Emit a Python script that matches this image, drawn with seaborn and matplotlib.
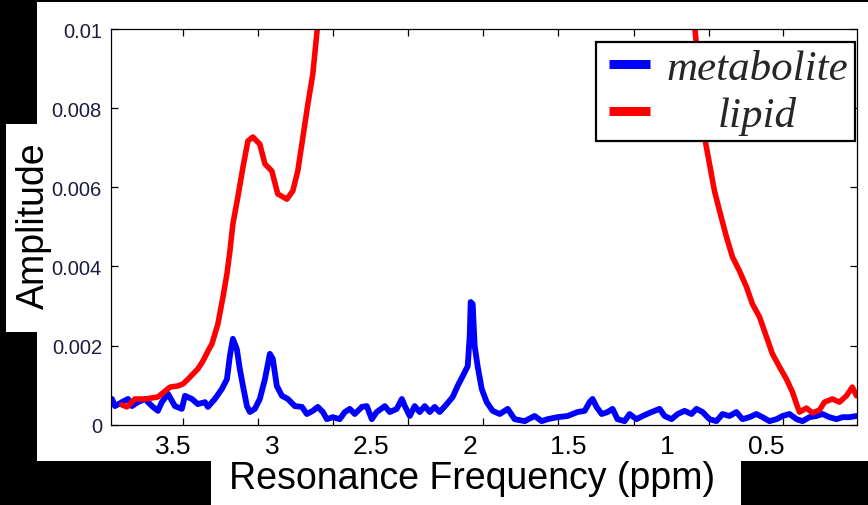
import matplotlib
matplotlib.use("Agg")
import matplotlib.pyplot as plt
from matplotlib.patches import Rectangle
from matplotlib.lines import Line2D
from matplotlib.legend_handler import HandlerLine2D
from matplotlib.font_manager import FontProperties
from matplotlib.ticker import FixedLocator
import pandas as pd
import seaborn as sns

# ---- spectra (chemical shift in ppm, amplitude in units of 1e-3) ----
metabolite_ppm = [
    3.808, 3.793, 3.758, 3.727, 3.707, 3.677, 3.641, 3.606, 3.576, 3.556,
    3.525, 3.490, 3.455, 3.439, 3.404, 3.374, 3.338, 3.323, 3.288, 3.253,
    3.227, 3.212, 3.197, 3.177, 3.162, 3.146, 3.126, 3.111, 3.086, 3.061,
    3.035, 3.010, 2.995, 2.975, 2.949, 2.919, 2.884, 2.848, 2.823, 2.793,
    2.768, 2.742, 2.722, 2.692, 2.657, 2.631, 2.606, 2.581, 2.545, 2.520,
    2.495, 2.470, 2.429, 2.404, 2.369, 2.343, 2.328, 2.303, 2.278, 2.253,
    2.227, 2.202, 2.177, 2.152, 2.116, 2.086, 2.061, 2.035, 2.010, 2.000,
    1.995, 1.985, 1.975, 1.960, 1.939, 1.914, 1.884, 1.848, 1.808, 1.773,
    1.722, 1.672, 1.636, 1.606, 1.556, 1.505, 1.455, 1.419, 1.394, 1.379,
    1.359, 1.333, 1.303, 1.278, 1.253, 1.217, 1.192, 1.157, 1.126, 1.081,
    1.040, 1.015, 0.980, 0.949, 0.914, 0.879, 0.854, 0.823, 0.788, 0.753,
    0.722, 0.687, 0.652, 0.621, 0.586, 0.551, 0.520, 0.485, 0.449, 0.419,
    0.384, 0.348, 0.318, 0.283, 0.247, 0.217, 0.182, 0.146, 0.116, 0.081,
    0.045,
]
metabolite_amp = [
    0.65, 0.47, 0.57, 0.65, 0.47, 0.57, 0.65, 0.47, 0.35, 0.57,
    0.78, 0.47, 0.40, 0.73, 0.65, 0.52, 0.57, 0.45, 0.65, 0.90,
    1.15, 1.74, 2.17, 1.91, 1.41, 0.98, 0.47, 0.32, 0.40, 0.65,
    1.15, 1.79, 1.66, 0.98, 0.73, 0.65, 0.47, 0.45, 0.27, 0.35,
    0.45, 0.32, 0.14, 0.19, 0.14, 0.32, 0.40, 0.27, 0.45, 0.47,
    0.14, 0.32, 0.47, 0.32, 0.40, 0.65, 0.47, 0.22, 0.47, 0.32,
    0.47, 0.32, 0.45, 0.32, 0.52, 0.70, 0.98, 1.23, 1.48, 2.24,
    3.10, 3.05, 1.99, 1.48, 0.90, 0.57, 0.35, 0.27, 0.40, 0.14,
    0.09, 0.22, 0.09, 0.14, 0.19, 0.22, 0.32, 0.35, 0.57, 0.65,
    0.45, 0.27, 0.32, 0.40, 0.14, 0.09, 0.27, 0.14, 0.22, 0.32,
    0.40, 0.22, 0.14, 0.27, 0.35, 0.27, 0.40, 0.32, 0.14, 0.09,
    0.27, 0.22, 0.32, 0.14, 0.19, 0.27, 0.19, 0.09, 0.14, 0.22,
    0.27, 0.14, 0.09, 0.19, 0.22, 0.27, 0.19, 0.14, 0.19, 0.19,
    0.22,
]

lipid_ppm = [
    3.758, 3.732, 3.692, 3.641, 3.576, 3.515, 3.475, 3.449, 3.424, 3.399,
    3.374, 3.348, 3.323, 3.303, 3.273, 3.247, 3.227, 3.212, 3.197, 3.172,
    3.146, 3.121, 3.096, 3.061, 3.035, 3.000, 2.970, 2.924, 2.894, 2.869,
    2.843, 2.818, 2.793, 2.778, 2.768, 2.740, 2.600, 1.300, 1.000, 0.900,
    0.864, 0.848, 0.828, 0.813, 0.788, 0.763, 0.737, 0.702, 0.672, 0.636,
    0.601, 0.571, 0.535, 0.500, 0.470, 0.434, 0.399, 0.369, 0.348, 0.333,
    0.298, 0.268, 0.232, 0.207, 0.167, 0.131, 0.096, 0.066, 0.045,
]
lipid_amp = [
    0.50, 0.45, 0.65, 0.65, 0.70, 0.95, 0.98, 1.03, 1.15, 1.28,
    1.41, 1.61, 1.86, 2.04, 2.54, 3.23, 3.81, 4.39, 5.07, 5.75,
    6.51, 7.17, 7.27, 7.09, 6.59, 6.41, 5.83, 5.70, 5.91, 6.41,
    7.27, 8.10, 8.86, 9.62, 10.13, 11.50, 18.00, 40.00, 22.00, 13.00,
    10.13, 9.29, 8.23, 7.27, 6.59, 5.91, 5.40, 4.74, 4.24, 3.88,
    3.48, 3.05, 2.72, 2.22, 1.79, 1.46, 1.15, 0.83, 0.52, 0.32,
    0.42, 0.30, 0.37, 0.57, 0.65, 0.57, 0.73, 0.95, 0.73,
]

x_tick_values = [3.5, 3.0, 2.5, 2.0, 1.5, 1.0, 0.5]
x_tick_labels = ["3.5", "3", "2.5", "2", "1.5", "1", "0.5"]
x_mark_positions = [3.449, 3.071, 2.692, 2.313, 1.934, 1.556, 1.172, 0.793, 0.414]
y_tick_values = [0.0, 0.002, 0.004, 0.006, 0.008, 0.010]
y_tick_labels = ["0", "0.002", "0.004", "0.006", "0.008", "0.01"]

series_names = ["metabolite", "lipid"]
series_colors = ["#0000ff", "#ff0000"]

sns.set_style("white")
plt.rcParams["font.family"] = ["Liberation Sans", "DejaVu Sans"]

W, H = 868, 506
fig = plt.figure(figsize=(W / 100, H / 100), dpi=100, facecolor="black")


def px_rect(x0, y0, x1, y1):
    """White panel given in pixel coordinates measured from the top-left."""
    fig.add_artist(Rectangle((x0 / W, 1 - y1 / H), (x1 - x0) / W, (y1 - y0) / H,
                             transform=fig.transFigure, facecolor="white",
                             edgecolor="none", zorder=-5))


px_rect(37, 3, 868, 462)    # plot panel
px_rect(6, 125, 37, 333)    # y-label panel
px_rect(211, 462, 741, 506)  # x-label panel

ax_l, ax_r, ax_t, ax_b = 111, 856.5, 30, 425.7
ax = fig.add_axes([ax_l / W, 1 - ax_b / H, (ax_r - ax_l) / W, (ax_b - ax_t) / H])
ax.set_facecolor("none")
ax.set_zorder(1)

met = pd.DataFrame({"ppm": metabolite_ppm,
                    "amp": [v * 1e-3 for v in metabolite_amp]})
lip = pd.DataFrame({"ppm": lipid_ppm,
                    "amp": [v * 1e-3 for v in lipid_amp]})

sns.lineplot(data=met, x="ppm", y="amp", ax=ax, color=series_colors[0],
             linewidth=4.2, sort=False, estimator=None, label=series_names[0])
sns.lineplot(data=lip, x="ppm", y="amp", ax=ax, color=series_colors[1],
             linewidth=4.0, sort=False, estimator=None, label=series_names[1])

ax.set_xlim(3.813, 0.045)
ax.set_ylim(0, 0.01)

for s in ax.spines.values():
    s.set_visible(True)
    s.set_color("black")
    s.set_linewidth(0.9)

ax.xaxis.set_major_locator(FixedLocator(x_tick_values))
ax.set_xticklabels(x_tick_labels)
ax.xaxis.set_minor_locator(FixedLocator(x_mark_positions))
ax.set_yticks(y_tick_values)
ax.set_yticklabels(y_tick_labels)

ax.tick_params(axis="x", which="major", length=0, labelsize=19, pad=6.5,
               labelcolor="black")
ax.tick_params(axis="x", which="minor", direction="in", length=5, width=0.9,
               top=True, bottom=True, color="black")
ax.tick_params(axis="y", which="major", direction="in", length=5, width=0.9,
               left=True, right=True, labelsize=14.5, pad=6.5, color="black",
               labelcolor="#1c1c40")

ax.set_xlabel("Resonance Frequency (ppm)", fontsize=27, color="black")
ax.xaxis.set_label_coords((472 - ax_l) / (ax_r - ax_l), (ax_b - 461) / (ax_b - ax_t))
ax.set_ylabel("Amplitude", fontsize=27, color="black")
ax.yaxis.set_label_coords((52 - ax_l) / (ax_r - ax_l), (ax_b - 226) / (ax_b - ax_t))

leg_font = FontProperties(family="Liberation Serif", style="italic", size=31)
leg = ax.legend(loc="upper right",
                bbox_to_anchor=((855 - ax_l) / (ax_r - ax_l), (ax_b - 43) / (ax_b - ax_t)),
                borderaxespad=0, frameon=True, fancybox=False, framealpha=1,
                prop=leg_font, handlelength=1.25, handletextpad=0.25,
                labelspacing=0.19, borderpad=0.15,
                handler_map={Line2D: HandlerLine2D(numpoints=2, marker_pad=0.15)})
frame = leg.get_frame()
frame.set_edgecolor("black")
frame.set_linewidth(1.6)
frame.set_facecolor("white")
for line in leg.get_lines():
    line.set_linewidth(6.5)
    line.set_solid_capstyle("butt")

# centre the shorter entry under the longer one
fig.canvas.draw()
renderer = fig.canvas.get_renderer()
texts = leg.get_texts()
widths = [t.get_window_extent(renderer).width for t in texts]
wmax = max(widths)
for t, w in zip(texts, widths):
    t.set_position(((wmax - w) / 2, 0))

fig.savefig("out.png", dpi=100, facecolor=fig.get_facecolor())
